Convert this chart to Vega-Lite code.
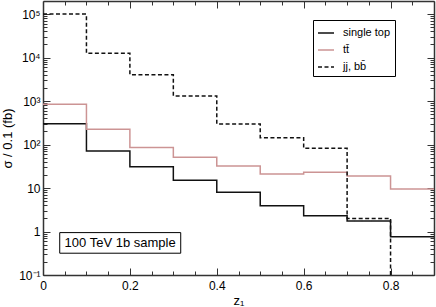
{
  "$schema": "https://vega.github.io/schema/vega-lite/v6.json",
  "width": 391,
  "height": 274,
  "autosize": {"type": "none"},
  "padding": {"left": 43, "top": 1, "right": 2, "bottom": 32},
  "background": "white",
  "config": {
    "font": "Liberation Sans",
    "view": {"stroke": null},
    "axis": {
      "domainColor": "#333",
      "domainWidth": 1.5,
      "tickColor": "#333",
      "tickWidth": 1,
      "grid": false,
      "labelFont": "Liberation Sans",
      "labelFontSize": 12,
      "labelColor": "black",
      "titleFont": "Liberation Sans",
      "titleFontSize": 13,
      "titleFontWeight": "normal",
      "titleColor": "black",
      "labelOverlap": false,
      "labelFlush": false
    },
    "legend": {
      "labelFont": "Liberation Sans",
      "labelFontSize": 11,
      "labelColor": "black"
    }
  },
  "datasets": {
    "hist": [
      {"series": "single top", "z1": 0.0, "sigma": 300},
      {"series": "single top", "z1": 0.1, "sigma": 71},
      {"series": "single top", "z1": 0.2, "sigma": 31},
      {"series": "single top", "z1": 0.3, "sigma": 15},
      {"series": "single top", "z1": 0.4, "sigma": 8},
      {"series": "single top", "z1": 0.5, "sigma": 3.9},
      {"series": "single top", "z1": 0.6, "sigma": 2.3},
      {"series": "single top", "z1": 0.7, "sigma": 1.75},
      {"series": "single top", "z1": 0.8, "sigma": 0.76},
      {"series": "single top", "z1": 0.9, "sigma": 0.76},
      {"series": "tt̄", "z1": 0.0, "sigma": 850},
      {"series": "tt̄", "z1": 0.1, "sigma": 225},
      {"series": "tt̄", "z1": 0.2, "sigma": 85},
      {"series": "tt̄", "z1": 0.3, "sigma": 51},
      {"series": "tt̄", "z1": 0.4, "sigma": 32},
      {"series": "tt̄", "z1": 0.5, "sigma": 21},
      {"series": "tt̄", "z1": 0.6, "sigma": 23},
      {"series": "tt̄", "z1": 0.7, "sigma": 19},
      {"series": "tt̄", "z1": 0.8, "sigma": 9.5},
      {"series": "tt̄", "z1": 0.9, "sigma": 9.5},
      {"series": "jj, bb̄", "z1": 0.0, "sigma": 100000},
      {"series": "jj, bb̄", "z1": 0.1, "sigma": 12600},
      {"series": "jj, bb̄", "z1": 0.2, "sigma": 4050},
      {"series": "jj, bb̄", "z1": 0.3, "sigma": 1310},
      {"series": "jj, bb̄", "z1": 0.4, "sigma": 297},
      {"series": "jj, bb̄", "z1": 0.5, "sigma": 144},
      {"series": "jj, bb̄", "z1": 0.6, "sigma": 82},
      {"series": "jj, bb̄", "z1": 0.7, "sigma": 2.0},
      {"series": "jj, bb̄", "z1": 0.8, "sigma": 0.01},
      {"series": "jj, bb̄", "z1": 0.9, "sigma": 0.01}
    ],
    "note": [
      {"x1": 0.0385, "x2": 0.317, "y1": 0.317, "y2": 0.944, "xm": 0.1775, "ym": 0.547, "label": "100 TeV 1b sample"}
    ]
  },
  "layer": [
    {
      "data": {"name": "hist"},
      "mark": {"type": "line", "interpolate": "step-after", "strokeWidth": 1.5, "clip": true},
      "encoding": {
        "x": {
          "field": "z1", "type": "quantitative",
          "scale": {"domain": [0, 0.9], "nice": false, "zero": false},
          "axis": {
            "orient": "bottom",
            "title": "z₁",
            "values": [0,0.05,0.1,0.15,0.2,0.25,0.3,0.35,0.4,0.45,0.5,0.55,0.6,0.65,0.7,0.75,0.8,0.85,0.9],
            "tickSize": {"condition": {"test": "indexof([0,20,40,60,80], round(datum.value*100)) >= 0", "value": -7}, "value": -4},
            "labelExpr": "indexof([0,20,40,60,80], round(datum.value*100)) >= 0 ? format(datum.value, '.1~f') : ''",
            "labelPadding": 12,
            "titlePadding": 0
          }
        },
        "y": {
          "field": "sigma", "type": "quantitative",
          "scale": {"type": "log", "domain": [0.1, 200000], "nice": false},
          "axis": {
            "orient": "left",
            "title": "σ / 0.1 (fb)",
            "values": [0.1,0.2,0.3,0.4,0.5,0.6,0.7,0.8,0.9,1,2,3,4,5,6,7,8,9,10,20,30,40,50,60,70,80,90,100,200,300,400,500,600,700,800,900,1000,2000,3000,4000,5000,6000,7000,8000,9000,10000,20000,30000,40000,50000,60000,70000,80000,90000,100000],
            "tickSize": {"condition": {"test": "abs(log(datum.value)/LN10 - round(log(datum.value)/LN10)) < 0.000001", "value": -7}, "value": -4},
            "labelExpr": "datum.value == 100000 ? '10⁵' : datum.value == 10000 ? '10⁴' : datum.value == 1000 ? '10³' : datum.value == 100 ? '10²' : datum.value == 10 ? '10' : datum.value == 1 ? '1' : (datum.value > 0.099 && datum.value < 0.101) ? '10⁻¹' : ''",
            "labelPadding": 10,
            "titlePadding": 4
          }
        },
        "color": {
          "field": "series", "type": "nominal",
          "scale": {"domain": ["single top", "tt̄", "jj, bb̄"], "range": ["#111111", "#cc9494", "#111111"]},
          "legend": {
            "title": null,
            "orient": "none",
            "legendX": 270,
            "legendY": 19,
            "strokeColor": "black",
            "fillColor": "white",
            "padding": 4,
            "symbolType": "stroke",
            "symbolStrokeWidth": 1.5,
            "symbolSize": 256,
            "rowPadding": 3,
            "labelOffset": 8
          }
        },
        "strokeDash": {
          "field": "series", "type": "nominal",
          "scale": {"domain": ["single top", "tt̄", "jj, bb̄"], "range": [[1,0],[1,0],[4,2.5]]},
          "legend": {
            "title": null,
            "orient": "none",
            "legendX": 270,
            "legendY": 19,
            "strokeColor": "black",
            "fillColor": "white",
            "padding": 4,
            "symbolType": "stroke",
            "symbolStrokeWidth": 1.5,
            "symbolSize": 256,
            "rowPadding": 3,
            "labelOffset": 8
          }
        }
      }
    },
    {
      "data": {"name": "note"},
      "mark": {"type": "rect", "fill": "white", "stroke": "black", "strokeWidth": 1},
      "encoding": {
        "x": {
          "field": "x1", "type": "quantitative",
          "axis": {
            "orient": "top", "title": null, "labels": false,
            "values": [0,0.05,0.1,0.15,0.2,0.25,0.3,0.35,0.4,0.45,0.5,0.55,0.6,0.65,0.7,0.75,0.8,0.85,0.9],
            "tickSize": {"condition": {"test": "indexof([0,20,40,60,80], round(datum.value*100)) >= 0", "value": -7}, "value": -4}
          }
        },
        "x2": {"field": "x2"},
        "y": {
          "field": "y1", "type": "quantitative",
          "axis": {
            "orient": "right", "title": null, "labels": false,
            "values": [0.1,0.2,0.3,0.4,0.5,0.6,0.7,0.8,0.9,1,2,3,4,5,6,7,8,9,10,20,30,40,50,60,70,80,90,100,200,300,400,500,600,700,800,900,1000,2000,3000,4000,5000,6000,7000,8000,9000,10000,20000,30000,40000,50000,60000,70000,80000,90000,100000],
            "tickSize": {"condition": {"test": "abs(log(datum.value)/LN10 - round(log(datum.value)/LN10)) < 0.000001", "value": -7}, "value": -4}
          }
        },
        "y2": {"field": "y2"}
      }
    },
    {
      "data": {"name": "note"},
      "mark": {"type": "text", "fontSize": 13, "font": "Liberation Sans", "color": "black", "align": "center", "baseline": "middle"},
      "encoding": {
        "x": {"field": "xm", "type": "quantitative", "axis": null},
        "y": {"field": "ym", "type": "quantitative", "axis": null},
        "text": {"field": "label"}
      }
    }
  ],
  "resolve": {"axis": {"x": "independent", "y": "independent"}}
}
